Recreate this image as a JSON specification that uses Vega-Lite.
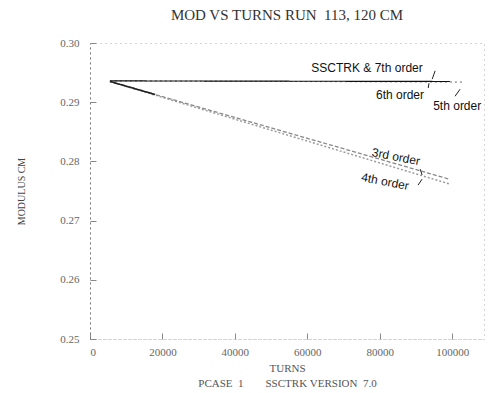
{
  "$schema": "https://vega.github.io/schema/vega-lite/v6.json",
  "width": 394,
  "height": 296,
  "padding": {"left": 16, "top": 8, "right": 2, "bottom": 2},
  "background": "white",
  "config": {
    "view": {"stroke": "#aaa", "strokeDash": [1, 4], "strokeWidth": 1},
    "font": "Liberation Serif"
  },
  "title": {
    "text": "MOD VS TURNS RUN\u00a0\u00a0113,\u00a0120 CM",
    "font": "Liberation Serif",
    "fontSize": 15,
    "fontWeight": "normal",
    "color": "#333",
    "offset": 14
  },
  "datasets": {
    "lines": [
      {"turns": 5500, "modulus": 0.2936, "series": "5th order"},
      {"turns": 102800, "modulus": 0.2934, "series": "5th order"},
      {"turns": 5500, "modulus": 0.2936, "series": "SSCTRK & 7th order"},
      {"turns": 99400, "modulus": 0.2935, "series": "SSCTRK & 7th order"},
      {"turns": 5500, "modulus": 0.2935, "series": "3rd order"},
      {"turns": 99200, "modulus": 0.2770, "series": "3rd order"},
      {"turns": 5500, "modulus": 0.2935, "series": "4th order"},
      {"turns": 99200, "modulus": 0.2762, "series": "4th order"},
      {"turns": 5500, "modulus": 0.2935, "series": "low order start"},
      {"turns": 18000, "modulus": 0.2913, "series": "low order start"}
    ],
    "labels": [
      {"turns": 76500, "modulus": 0.2958, "label": "SSCTRK & 7th order", "angle": 0},
      {"turns": 85600, "modulus": 0.2912, "label": "6th order", "angle": 0},
      {"turns": 101400, "modulus": 0.2894, "label": "5th order", "angle": 0},
      {"turns": 84500, "modulus": 0.2808, "label": "3rd order", "angle": 11},
      {"turns": 81500, "modulus": 0.2766, "label": "4th order", "angle": 11}
    ],
    "arrows": [
      {"turns": 95300, "modulus": 0.2953, "turns2": 94500, "modulus2": 0.2939},
      {"turns": 93400, "modulus": 0.2924, "turns2": 93600, "modulus2": 0.2932},
      {"turns": 100800, "modulus": 0.2910, "turns2": 102200, "modulus2": 0.2922},
      {"turns": 91200, "modulus": 0.2787, "turns2": 91700, "modulus2": 0.2777},
      {"turns": 90600, "modulus": 0.2760, "turns2": 91700, "modulus2": 0.2770}
    ]
  },
  "layer": [
    {
      "data": {"name": "lines"},
      "mark": {"type": "line", "clip": true},
      "encoding": {
        "x": {
          "field": "turns", "type": "quantitative",
          "scale": {"domain": [0, 108800], "nice": false},
          "axis": {
            "values": [0, 20000, 40000, 60000, 80000, 100000],
            "format": "d",
            "title": ["TURNS", "PCASE\u00a0\u00a01\u00a0\u00a0\u00a0\u00a0\u00a0\u00a0\u00a0\u00a0SSCTRK\u00a0VERSION\u00a0\u00a07.0"],
            "titleFont": "Liberation Serif",
            "titleFontSize": 11,
            "titleFontWeight": "normal",
            "titleColor": "#555",
            "titleLineHeight": 15,
            "titlePadding": 5,
            "labelFont": "Liberation Serif",
            "labelFontSize": 11,
            "labelColor": "#666",
            "labelPadding": 13,
            "domainColor": "#aaa",
            "domainDash": [1, 4],
            "tickColor": "#888",
            "tickSize": -6,
            "grid": false
          }
        },
        "y": {
          "field": "modulus", "type": "quantitative",
          "scale": {"domain": [0.25, 0.30], "nice": false, "zero": false},
          "axis": {
            "values": [0.25, 0.26, 0.27, 0.28, 0.29, 0.30],
            "format": ".2f",
            "title": "MODULUS CM",
            "titleFont": "Liberation Serif",
            "titleFontSize": 10,
            "titleFontWeight": "normal",
            "titleColor": "#444",
            "titlePadding": 33,
            "labelFont": "Liberation Serif",
            "labelFontSize": 11,
            "labelColor": "#666",
            "labelPadding": 17,
            "domainColor": "#777",
            "domainDash": [2, 3],
            "tickColor": "#888",
            "tickSize": -6,
            "grid": false
          }
        },
        "detail": {"field": "series"},
        "color": {
          "field": "series", "type": "nominal", "legend": null,
          "scale": {
            "domain": ["5th order", "SSCTRK & 7th order", "3rd order", "4th order", "low order start"],
            "range": ["#666", "#111", "#888", "#999", "#222"]
          }
        },
        "strokeDash": {
          "field": "series", "type": "nominal", "legend": null,
          "scale": {
            "domain": ["5th order", "SSCTRK & 7th order", "3rd order", "4th order", "low order start"],
            "range": [[2, 3], [1, 0], [4, 2], [2, 2], [1, 0]]
          }
        },
        "strokeWidth": {
          "field": "series", "type": "nominal", "legend": null,
          "scale": {
            "domain": ["5th order", "SSCTRK & 7th order", "3rd order", "4th order", "low order start"],
            "range": [1, 1.6, 1, 1, 1.6]
          }
        }
      }
    },
    {
      "data": {"name": "arrows"},
      "mark": {"type": "rule", "color": "#222", "strokeWidth": 1},
      "encoding": {
        "x": {"field": "turns", "type": "quantitative"},
        "y": {"field": "modulus", "type": "quantitative"},
        "x2": {"field": "turns2"},
        "y2": {"field": "modulus2"}
      }
    },
    {
      "data": {"name": "labels"},
      "mark": {"type": "text", "font": "Liberation Sans", "fontSize": 12, "color": "#111"},
      "encoding": {
        "x": {"field": "turns", "type": "quantitative"},
        "y": {"field": "modulus", "type": "quantitative"},
        "text": {"field": "label"},
        "angle": {"field": "angle", "type": "quantitative", "scale": null}
      }
    }
  ]
}
